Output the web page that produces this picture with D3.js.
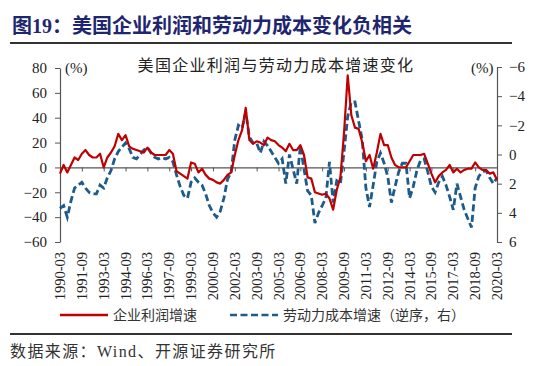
<!DOCTYPE html>
<html>
<head>
<meta charset="utf-8">
<script src="https://cdn.jsdelivr.net/npm/d3@7"></script>
<style>
  body { margin: 0; background: #fff; }
  svg text { font-family: "Liberation Serif", "Noto Sans CJK SC", serif; }
</style>
</head>
<body>
<div id="chart"></div>
<script>
// quarterly, 1990-03 .. 2020-03
var years = d3.range(1990, 2021);
var months = ["03", "06", "09", "12"];
var quarters = [];
years.forEach(function (y) {
    months.forEach(function (m) {
        if (y < 2020 || m === "03") quarters.push(y + "-" + m);
    });
});

var tickLabels = ["1990-03", "1991-09", "1993-03", "1994-09", "1996-03", "1997-09", "1999-03",
    "2000-09", "2002-03", "2003-09", "2005-03", "2006-09", "2008-03", "2009-09", "2011-03",
    "2012-09", "2014-03", "2015-09", "2017-03", "2018-09", "2020-03"];

// 企业利润增速 (%), left axis
var profitGrowth = [
    -5, 2, -4, 2, 8, 6, 11, 14, 10, 8,
    8, 11, 0, 8, 12, 17, 27, 22, 26, 17,
    15, 14, 13, 12, 16, 12, 10, 10, 10, 10,
    14, 11, -3, -5, -7, -9, 4, 3, -4, -1,
    -6, -9, -10, -12, -13, -10, -6, -4, 10, 22,
    30, 48, 22, 19, 21, 20, 18, 24, 22, 21,
    18, 16, 13, 19, 14, 14, 18, 10, -8, -9,
    -20, -21, -22, -21, -25, -34, -18, -8, 28, 74,
    42, 32, 31, 20, 5, 10, -1, 12, 27, 18,
    18, 8, 2, 0, 0, 0, 5, 10, 10, 10,
    11, 3, -5, -12, -7, -4, -2, 2, -4, -1,
    -4, -2, -1, -1, 4, 0, -2, -2, -5, -4,
    -10];

// 劳动力成本增速 (%), right axis, reversed
var laborCostGrowth = [
    3.7, 3.5, 4.3, 3.2, 2.3, 2.1, 1.9, 2.3, 2.6, 2.7,
    2.7, 2.1, 2.3, 1.6, 1.1, 0.3, -0.2, -0.5, -0.8, -0.4,
    0.2, 0.3, 0.0, -0.3, -0.5, -0.1, 0.2, 0.3, 0.2, 0.3,
    0.2, 0.5, 1.4, 2.2, 2.8, 3.0, 1.9, 1.6, 1.9, 2.1,
    2.7, 3.5, 4.0, 4.3, 3.9, 3.0, 1.7, 1.2, -1.0, -2.0,
    -1.8, -2.9, -1.2, -0.8, -0.8, -0.1, -0.9, -0.6, -0.2, 0.2,
    0.6, 0.3, 2.0, 0.0, 1.0, 2.0, -0.6, 1.0, 2.5, 2.8,
    4.7, 4.0, 3.5, 3.0, 0.5, 3.3, 1.8, 2.0, -0.2, -2.6,
    -3.6, -3.6, -2.3, -1.0, 2.3, 3.6, 2.1, 0.5, -0.1, 0.6,
    1.5, 3.3, 2.2, 1.2, 0.6, 0.6, 3.0, 2.2, 1.1, 0.4,
    0.3, 1.2, 2.2, 2.6, 1.9, 1.5, 2.1, 2.9, 3.8, 2.0,
    2.9, 3.8, 4.4, 5.0, 2.3, 1.5, 1.2, 1.1, 1.6, 2.0,
    1.6];

var leftTicks = [-60, -40, -20, 0, 20, 40, 60, 80];
var rightTicks = [-6, -4, -2, 0, 2, 4, 6];

var width = 550, height = 366;
var plot = { left: 60, right: 497, top: 68, bottom: 242 };

var svg = d3.select("#chart").append("svg")
    .attr("width", width)
    .attr("height", height);

// header
svg.append("text")
    .attr("x", 12).attr("y", 33)
    .attr("font-size", "20px")
    .attr("font-weight", "bold")
    .attr("fill", "#1f2670")
    .text("图19：美国企业利润和劳动力成本变化负相关");

svg.append("line")
    .attr("x1", 10).attr("x2", 512).attr("y1", 43).attr("y2", 43)
    .attr("stroke", "#333").attr("stroke-width", 2);

// scales
var x = d3.scalePoint().domain(quarters).range([plot.left, plot.right]);
var yLeft = d3.scaleLinear().domain([-60, 80]).range([plot.bottom, plot.top]);
var yRight = d3.scaleLinear().domain([-6, 6]).range([plot.top - 1, plot.bottom]);

// axes
var leftAxis = svg.append("g")
    .attr("transform", "translate(" + plot.left + ",0)")
    .call(d3.axisLeft(yLeft).tickValues(leftTicks).tickSize(5).tickSizeOuter(0));

var rightAxis = svg.append("g")
    .attr("transform", "translate(" + plot.right + ",0)")
    .call(d3.axisRight(yRight).tickValues(rightTicks).tickSize(5).tickSizeOuter(0));

[leftAxis, rightAxis].forEach(function (g) {
    g.select(".domain").attr("stroke", "#555").attr("stroke-width", 1.2);
    g.selectAll(".tick line").attr("stroke", "#555");
    g.selectAll(".tick text")
        .attr("font-family", "Liberation Serif")
        .attr("font-size", "15px")
        .attr("fill", "#222");
});
leftAxis.selectAll(".tick text").attr("x", -13);
rightAxis.selectAll(".tick text").attr("x", 12);

// zero line with category ticks
var xAxis = svg.append("g")
    .attr("transform", "translate(0," + yLeft(0) + ")")
    .call(d3.axisBottom(x).tickValues(tickLabels).tickSize(4).tickSizeOuter(0));
xAxis.select(".domain").attr("stroke", "#555").attr("stroke-width", 1.2);
xAxis.selectAll(".tick line").attr("stroke", "#555");
xAxis.selectAll(".tick text").remove();

// rotated date labels below plot
svg.append("g").selectAll("text")
    .data(tickLabels)
    .enter()
    .append("text")
    .attr("transform", function (d) { return "translate(" + (x(d) + 5) + "," + (plot.bottom + 10) + ") rotate(-90)"; })
    .attr("text-anchor", "end")
    .attr("font-family", "Liberation Serif")
    .attr("font-size", "14.5px")
    .attr("fill", "#222")
    .text(function (d) { return d; });

// unit labels and chart title
svg.append("text").attr("x", 65).attr("y", 73)
    .attr("font-size", "15px").attr("fill", "#222").text("(%)");
svg.append("text").attr("x", 471).attr("y", 73)
    .attr("font-size", "15px").attr("fill", "#222").text("(%)");

svg.append("text")
    .attr("x", 276).attr("y", 71)
    .attr("text-anchor", "middle")
    .attr("font-family", "Noto Sans CJK SC")
    .attr("font-size", "16px")
    .attr("letter-spacing", "1.3px")
    .attr("fill", "#222")
    .text("美国企业利润与劳动力成本增速变化");

// series
var profitLine = d3.line()
    .x(function (d, i) { return x(quarters[i]); })
    .y(function (d) { return yLeft(d); });

var laborLine = d3.line()
    .x(function (d, i) { return x(quarters[i]); })
    .y(function (d) { return yRight(d); });

svg.append("path")
    .datum(laborCostGrowth)
    .attr("d", laborLine)
    .attr("fill", "none")
    .attr("stroke", "#1d5b8a")
    .attr("stroke-width", 2.8)
    .attr("stroke-dasharray", "7,3.5");

svg.append("path")
    .datum(profitGrowth)
    .attr("d", profitLine)
    .attr("fill", "none")
    .attr("stroke", "#c00000")
    .attr("stroke-width", 2.2)
    .attr("stroke-linejoin", "round");

// legend
var legend = svg.append("g").attr("font-family", "Noto Sans CJK SC").attr("font-size", "14px");
legend.append("line").attr("x1", 60).attr("x2", 108).attr("y1", 315).attr("y2", 315)
    .attr("stroke", "#c00000").attr("stroke-width", 2.5);
legend.append("text").attr("x", 113).attr("y", 320).attr("fill", "#333").text("企业利润增速");
legend.append("line").attr("x1", 230).attr("x2", 278).attr("y1", 315).attr("y2", 315)
    .attr("stroke", "#1d5b8a").attr("stroke-width", 2.6).attr("stroke-dasharray", "7,3.5");
legend.append("text").attr("x", 283).attr("y", 320).attr("fill", "#333").text("劳动力成本增速（逆序，右）");

// footer
svg.append("line")
    .attr("x1", 10).attr("x2", 512).attr("y1", 334).attr("y2", 334)
    .attr("stroke", "#333").attr("stroke-width", 2);

svg.append("text")
    .attr("x", 10).attr("y", 357)
    .attr("font-size", "16px")
    .attr("letter-spacing", "1.4px")
    .attr("fill", "#333")
    .text("数据来源：Wind、开源证券研究所");
</script>
</body>
</html>
